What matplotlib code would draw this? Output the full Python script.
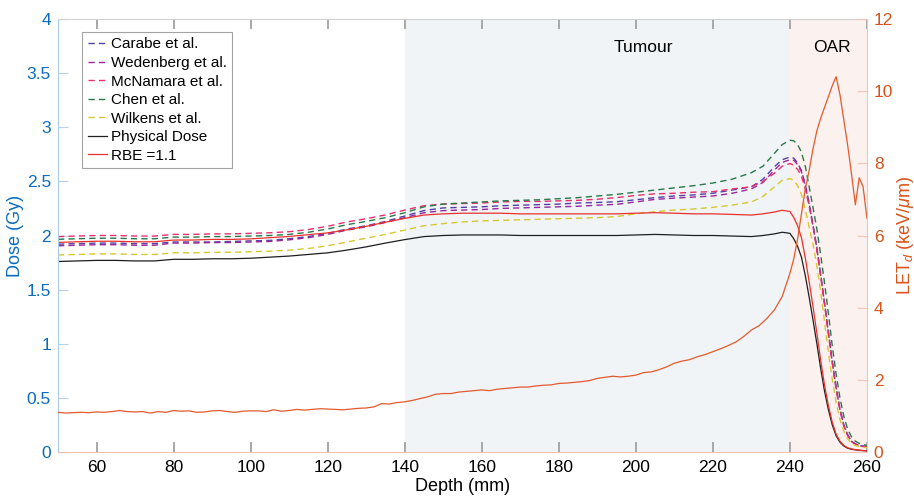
import matplotlib
matplotlib.use("Agg")
import matplotlib.pyplot as plt

plt.rcParams["font.family"] = ["Liberation Sans", "DejaVu Sans"]
plt.rcParams["mathtext.fontset"] = "custom"
plt.rcParams["mathtext.rm"] = "Liberation Sans"
plt.rcParams["mathtext.it"] = "Liberation Sans:italic"

# ---------------- data ----------------
depth = [50, 55, 60, 65, 70, 75, 80, 85, 90, 95,
         100, 105, 110, 115, 120, 125, 130, 135, 140, 145,
         150, 155, 160, 165, 170, 175, 180, 185, 190, 195,
         200, 205, 210, 215, 220, 225, 230, 233, 236, 238,
         240, 241, 242, 243, 244, 245, 246, 247, 248, 249,
         250, 251, 252, 253, 254, 255, 256, 257, 258, 260]

physical = [1.760, 1.765, 1.770, 1.770, 1.765, 1.765, 1.780, 1.780, 1.785, 1.785,
            1.790, 1.800, 1.810, 1.825, 1.840, 1.865, 1.895, 1.930, 1.962, 1.990,
            2.000, 2.005, 2.005, 2.005, 2.000, 2.000, 2.000, 2.000, 2.000, 2.000,
            2.005, 2.010, 2.005, 2.000, 2.000, 1.995, 1.990, 2.000, 2.015, 2.030,
            2.020, 1.970, 1.900, 1.800, 1.630, 1.430, 1.220, 1.000, 0.770, 0.560,
            0.390, 0.250, 0.150, 0.090, 0.055, 0.035, 0.025, 0.020, 0.015, 0.010]

rbe11 = [1.936, 1.942, 1.947, 1.947, 1.942, 1.942, 1.958, 1.958, 1.964, 1.964,
         1.969, 1.980, 1.991, 2.008, 2.024, 2.052, 2.085, 2.123, 2.158, 2.189,
         2.200, 2.206, 2.206, 2.206, 2.200, 2.200, 2.200, 2.200, 2.200, 2.200,
         2.206, 2.211, 2.206, 2.200, 2.200, 2.195, 2.189, 2.200, 2.217, 2.233,
         2.222, 2.167, 2.090, 1.980, 1.793, 1.573, 1.342, 1.100, 0.847, 0.616,
         0.429, 0.275, 0.165, 0.099, 0.061, 0.039, 0.028, 0.022, 0.017, 0.011]

carabe = [1.920, 1.925, 1.930, 1.930, 1.925, 1.925, 1.940, 1.940, 1.940, 1.945,
          1.950, 1.955, 1.970, 1.990, 2.020, 2.060, 2.090, 2.130, 2.180, 2.230,
          2.255, 2.260, 2.265, 2.275, 2.280, 2.285, 2.290, 2.300, 2.305, 2.312,
          2.330, 2.350, 2.365, 2.375, 2.390, 2.420, 2.450, 2.520, 2.636, 2.700,
          2.725, 2.715, 2.670, 2.600, 2.470, 2.300, 2.100, 1.890, 1.640, 1.380,
          1.110, 0.840, 0.600, 0.400, 0.250, 0.160, 0.100, 0.075, 0.060, 0.050]

wedenberg = [1.905, 1.910, 1.915, 1.915, 1.910, 1.910, 1.930, 1.930, 1.935, 1.935,
             1.940, 1.945, 1.960, 1.980, 2.010, 2.050, 2.080, 2.120, 2.165, 2.210,
             2.230, 2.235, 2.240, 2.250, 2.255, 2.260, 2.265, 2.270, 2.280, 2.288,
             2.310, 2.334, 2.345, 2.355, 2.365, 2.390, 2.430, 2.490, 2.605, 2.675,
             2.700, 2.695, 2.655, 2.590, 2.460, 2.290, 2.090, 1.880, 1.630, 1.370,
             1.100, 0.830, 0.590, 0.390, 0.245, 0.155, 0.100, 0.075, 0.060, 0.050]

mcnamara = [1.990, 1.995, 2.000, 2.000, 1.995, 1.995, 2.010, 2.010, 2.015, 2.015,
            2.020, 2.025, 2.035, 2.055, 2.085, 2.125, 2.155, 2.190, 2.235, 2.275,
            2.290, 2.295, 2.300, 2.310, 2.315, 2.315, 2.320, 2.325, 2.335, 2.350,
            2.370, 2.385, 2.390, 2.400, 2.405, 2.430, 2.450, 2.500, 2.575, 2.640,
            2.665, 2.650, 2.610, 2.550, 2.430, 2.270, 2.080, 1.870, 1.620, 1.360,
            1.090, 0.820, 0.580, 0.385, 0.240, 0.150, 0.095, 0.070, 0.055, 0.045]

chen = [1.965, 1.970, 1.975, 1.975, 1.970, 1.970, 1.985, 1.985, 1.990, 1.990,
        1.995, 2.000, 2.010, 2.030, 2.060, 2.100, 2.130, 2.165, 2.210, 2.265,
        2.290, 2.300, 2.310, 2.320, 2.325, 2.330, 2.340, 2.350, 2.365, 2.380,
        2.400, 2.420, 2.440, 2.460, 2.485, 2.520, 2.580, 2.640, 2.760, 2.840,
        2.880, 2.875, 2.840, 2.770, 2.640, 2.450, 2.260, 2.060, 1.820, 1.560,
        1.280, 0.980, 0.720, 0.500, 0.330, 0.210, 0.140, 0.100, 0.080, 0.060]

wilkens = [1.820, 1.825, 1.830, 1.830, 1.825, 1.825, 1.840, 1.840, 1.845, 1.845,
           1.850, 1.855, 1.865, 1.880, 1.905, 1.940, 1.975, 2.010, 2.050, 2.090,
           2.110, 2.125, 2.135, 2.140, 2.145, 2.150, 2.155, 2.160, 2.165, 2.175,
           2.200, 2.220, 2.235, 2.245, 2.260, 2.280, 2.310, 2.360, 2.450, 2.510,
           2.525, 2.510, 2.460, 2.380, 2.240, 2.080, 1.920, 1.720, 1.480, 1.200,
           0.920, 0.670, 0.460, 0.300, 0.190, 0.120, 0.080, 0.060, 0.050, 0.040]

# LET_d (right axis), 2 mm steps up to 240, then 1 mm
let_depth = list(range(50, 241, 2)) + list(range(241, 261))
let_d = [1.10, 1.08, 1.09, 1.10, 1.09, 1.11, 1.10, 1.12, 1.15, 1.12,
         1.11, 1.12, 1.08, 1.12, 1.10, 1.15, 1.13, 1.14, 1.10, 1.11,
         1.14, 1.15, 1.12, 1.10, 1.13, 1.14, 1.14, 1.12, 1.17, 1.13,
         1.15, 1.18, 1.16, 1.18, 1.20, 1.19, 1.18, 1.17, 1.19, 1.21,
         1.22, 1.25, 1.34, 1.33, 1.37, 1.39, 1.43, 1.48, 1.53, 1.60,
         1.62, 1.62, 1.66, 1.68, 1.70, 1.72, 1.70, 1.74, 1.76, 1.78,
         1.80, 1.80, 1.83, 1.85, 1.86, 1.90, 1.91, 1.93, 1.95, 1.98,
         2.04, 2.07, 2.10, 2.08, 2.10, 2.13, 2.20, 2.22, 2.28, 2.36,
         2.46, 2.52, 2.56, 2.64, 2.70, 2.78, 2.86, 2.95, 3.05, 3.20,
         3.38, 3.50, 3.70, 3.94, 4.31, 4.95,
         5.35, 5.90, 6.60, 7.30, 7.80, 8.40, 8.90, 9.25, 9.55, 9.85,
         10.15, 10.40, 9.90, 9.20, 8.50, 7.70, 6.85, 7.60, 7.35, 6.48]

models = [
    ("Carabe et al.", carabe, "#5540A8"),
    ("Wedenberg et al.", wedenberg, "#9A279C"),
    ("McNamara et al.", mcnamara, "#E82E6C"),
    ("Chen et al.", chen, "#267A48"),
    ("Wilkens et al.", wilkens, "#D4C832"),
]

BLUE = "#0B6BBF"
ORANGE = "#D95319"

# ---------------- plot ----------------
fig = plt.figure(figsize=(9.14, 5.0), dpi=100)
ax = fig.add_axes([0.0635, 0.096, 0.885, 0.866])

ax.axvspan(140, 240, color="#F1F4F7", lw=0, zorder=0)
ax.axvspan(240, 260, color="#FBF1EE", lw=0, zorder=0)

for name, vals, col in models:
    ax.plot(depth, vals, ls=(0, (4.5, 3)), lw=1.0, color=col, label=name)
ax.plot(depth, physical, color="#1E1E1E", lw=0.9, label="Physical Dose")
ax.plot(depth, rbe11, color="#E8312C", lw=0.9, label="RBE =1.1")

ax.text(202, 3.74, "Tumour", ha="center", va="center", fontsize=12.5)
ax.text(251, 3.74, "OAR", ha="center", va="center", fontsize=12.5)

ax.set_xlim(50, 260)
ax.set_ylim(0, 4)
ax.set_xticks(range(60, 261, 20))
ax.set_yticks([0, 0.5, 1, 1.5, 2, 2.5, 3, 3.5, 4])
ax.set_yticklabels(["0", "0.5", "1", "1.5", "2", "2.5", "3", "3.5", "4"])
ax.set_xlabel("Depth (mm)", fontsize=13, labelpad=2)
ax.set_ylabel("Dose (Gy)", fontsize=13, color=BLUE, labelpad=2)

ax.tick_params(axis="x", direction="in", length=7, width=1.2, color="#9A9A9A",
               labelsize=12.5, pad=6, top=True, labelcolor="black")
ax.tick_params(axis="y", direction="in", length=7, width=0.8, color="#B7D2EC",
               labelsize=12.5, labelcolor=BLUE, pad=5)

ax.spines["left"].set_color("#A9CBEA")
ax.spines["top"].set_color("#D0D0D0")
ax.spines["bottom"].set_color("#F3BFB0")
ax.spines["right"].set_visible(False)

leg = ax.legend(loc="upper left", bbox_to_anchor=(0.03, 0.97), fontsize=11,
                frameon=True, fancybox=False, handlelength=1.25, handletextpad=0.25,
                labelspacing=0.3, borderpad=0.35, borderaxespad=0.0)
leg.get_frame().set_edgecolor("#8C8C8C")
leg.get_frame().set_linewidth(0.8)

ax2 = ax.twinx()
ax2.plot(let_depth, let_d, color="#E35A2C", lw=0.9)
ax2.set_ylim(0, 12)
ax2.set_yticks(range(0, 13, 2))
ax2.set_ylabel(r"LET$_d$ (keV/$\mu$m)", fontsize=13, color=ORANGE, labelpad=1)
ax2.tick_params(axis="y", direction="in", length=7, width=0.8, color="#F5C4B3",
                labelsize=12.5, labelcolor=ORANGE, pad=5)
ax2.spines["right"].set_color("#F5C4B3")
ax2.spines["left"].set_visible(False)
ax2.spines["top"].set_visible(False)
ax2.spines["bottom"].set_visible(False)

fig.savefig("out.png", dpi=100)
